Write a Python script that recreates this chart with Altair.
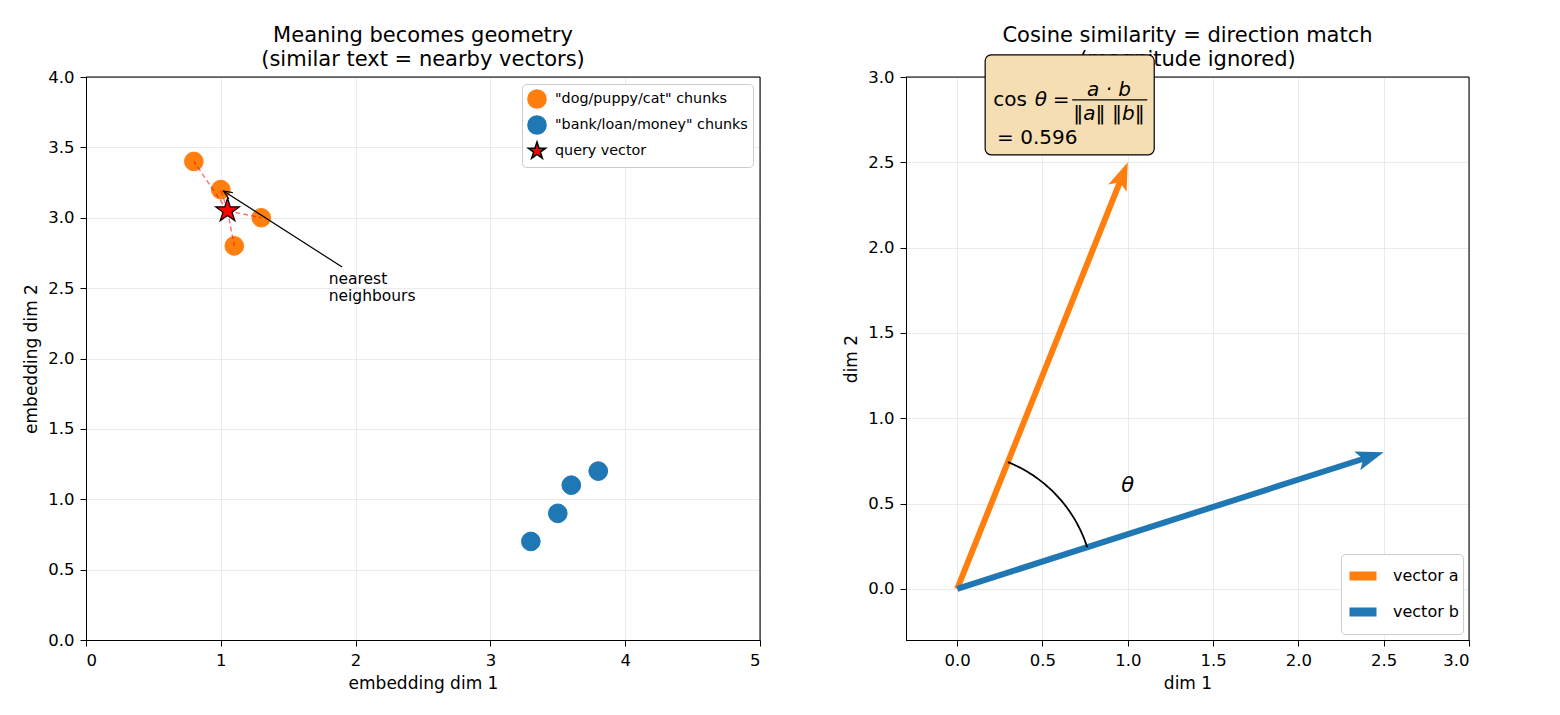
import math
import numpy as np
import pandas as pd
import altair as alt

FONT = "DejaVu Sans"
ORANGE = "#ff7f0e"
BLUE = "#1f77b4"
STAR = ("M0,-1L0.2245,-0.309L0.951,-0.309L0.363,0.118L0.588,0.809L0,0.382"
        "L-0.588,0.809L-0.363,0.118L-0.951,-0.309L-0.2245,-0.309Z")

# ---- left panel: toy embedding space ----
left_title = ["Meaning becomes geometry", "(similar text = nearby vectors)"]
dog_x = [0.8, 1.0, 1.3, 1.1]
dog_y = [3.4, 3.2, 3.0, 2.8]
bank_x = [3.3, 3.5, 3.6, 3.8]
bank_y = [0.7, 0.9, 1.1, 1.2]
query_xy = [1.05, 3.05]
series_names = ['"dog/puppy/cat" chunks', '"bank/loan/money" chunks', "query vector"]

note_lines = ["nearest", "neighbours"]
note_x = 1.8
note_y = [2.53, 2.41]
note_tail = [1.9, 2.65]
note_head = [1.02, 3.19]

left_xdom = [0, 5]
left_ydom = [0, 4]
left_xticks = [0, 1, 2, 3, 4, 5]
left_yticks = [0.0, 0.5, 1.0, 1.5, 2.0, 2.5, 3.0, 3.5, 4.0]

# ---- right panel: two vectors and the angle between them ----
right_title = ["Cosine similarity = direction match", "(magnitude ignored)"]
vec_names = ["vector a", "vector b"]
vec_a = [1.0, 2.5]
vec_b = [2.5, 0.8]
arc_radius = 0.8
theta_xy = [1.0, 0.6]
cos_value = "= 0.596"

right_dom = [-0.3, 3.0]
right_ticks = [0.0, 0.5, 1.0, 1.5, 2.0, 2.5, 3.0]

# formula box placement (data coordinates of the right panel)
box_x = [0.164, 1.155]
box_y = [2.544, 3.130]
cos_parts = [("cos", 0.211, "normal"), ("θ", 0.455, "italic"), ("=", 0.56, "normal")]
cos_y = 2.831
num_xy = [0.89, 2.89]
den_xy = [0.89, 2.749]
bar_x = [0.674, 1.114]
bar_y = 2.866
val_xy = [0.234, 2.608]

W1, H1 = 674, 563
W2, H2 = 563, 563
TITLE_RAISE = [35, 11]   # baselines of the two title lines, pixels above the plot
TITLE_SIZE = 21


def axis(values, fmt, title):
    return alt.Axis(values=values, format=fmt, title=title, grid=True,
                    gridColor="#e6e6e6", gridWidth=0.8, domain=True, domainColor="black",
                    domainWidth=1, tickColor="black", tickSize=6, tickWidth=1,
                    labelFont=FONT, labelFontSize=16.5, labelColor="black", labelPadding=6,
                    titleFont=FONT, titleFontSize=17, titleFontWeight="normal",
                    titleColor="black", titlePadding=7)


def title_layer(lines, xdom, ytop, px_per_unit, X, Y):
    df = pd.DataFrame({"x": [(xdom[0] + xdom[1]) / 2] * len(lines),
                       "y": [ytop + r / px_per_unit for r in TITLE_RAISE],
                       "t": lines})
    return alt.Chart(df).mark_text(font=FONT, fontSize=TITLE_SIZE, align="center",
                                   baseline="alphabetic", color="black").encode(x=X(), y=Y(), text="t:N")


def frame_layer(xdom, ydom, X, Y):
    # top and right spines, drawn above the grid
    df = pd.DataFrame({"x": [xdom[0], xdom[1]], "xe": [xdom[1], xdom[1]],
                       "y": [ydom[1], ydom[0]], "ye": [ydom[1], ydom[1]]})
    return alt.Chart(df).mark_rule(color="black", strokeWidth=1).encode(
        x=X(), x2="xe:Q", y=Y(), y2="ye:Q")


lx_axis = axis(left_xticks, "d", "embedding dim 1")
ly_axis = axis(left_yticks, ".1f", "embedding dim 2")
lx_scale = alt.Scale(domain=left_xdom, nice=False, zero=False)
ly_scale = alt.Scale(domain=left_ydom, nice=False, zero=False)


def LX(f="x"):
    return alt.X(f"{f}:Q", scale=lx_scale, axis=lx_axis)


def LY(f="y"):
    return alt.Y(f"{f}:Q", scale=ly_scale, axis=ly_axis)


pts = pd.DataFrame({
    "x": dog_x + bank_x + [query_xy[0]],
    "y": dog_y + bank_y + [query_xy[1]],
    "series": [series_names[0]] * len(dog_x) + [series_names[1]] * len(bank_x) + [series_names[2]],
})

leg = alt.Legend(title=None, orient="top-right", offset=7, fillColor="white",
                 strokeColor="#cccccc", cornerRadius=4, padding=5, labelFont=FONT,
                 labelFontSize=14.3, labelColor="black", labelLimit=400, rowPadding=0,
                 symbolSize=330, labelOffset=8)

enc_series = dict(
    color=alt.Color("series:N", scale=alt.Scale(domain=series_names, range=[ORANGE, BLUE, "red"]), legend=leg),
    shape=alt.Shape("series:N", scale=alt.Scale(domain=series_names, range=["circle", "circle", STAR]), legend=leg),
    stroke=alt.Stroke("series:N", scale=alt.Scale(domain=series_names, range=[ORANGE, BLUE, "black"]), legend=leg),
)

circles = alt.Chart(pts).transform_filter(alt.datum.series != series_names[2]).mark_point(
    filled=True, opacity=1, strokeWidth=1, size=350).encode(x=LX(), y=LY(), **enc_series)
star = alt.Chart(pts).transform_filter(alt.datum.series == series_names[2]).mark_point(
    filled=True, opacity=1, strokeWidth=1.2, size=620).encode(x=LX(), y=LY(), **enc_series)

links = pd.DataFrame({"x": [query_xy[0]] * len(dog_x), "y": [query_xy[1]] * len(dog_x),
                      "xe": dog_x, "ye": dog_y})
link_lines = alt.Chart(links).mark_rule(color="red", opacity=0.55, strokeDash=[5, 3], strokeWidth=1.4).encode(
    x=LX(), y=LY(), x2="xe:Q", y2="ye:Q")

# annotation arrow pointing at the nearest neighbours
note_df = pd.DataFrame({"x": [note_tail[0]], "y": [note_tail[1]], "xe": [note_head[0]], "ye": [note_head[1]]})
note_line = alt.Chart(note_df).mark_rule(color="black", strokeWidth=1.2).encode(
    x=LX(), y=LY(), x2="xe:Q", y2="ye:Q")
px_x = W1 / (left_xdom[1] - left_xdom[0])
px_y = H1 / (left_ydom[1] - left_ydom[0])
phi = math.degrees(math.atan2((note_head[1] - note_tail[1]) * px_y, (note_head[0] - note_tail[0]) * px_x))
note_tip = alt.Chart(pd.DataFrame({"x": [note_head[0]], "y": [note_head[1]]})).mark_point(
    shape="M-0.55,1.3L0,0L0.55,1.3", filled=False, color="black", strokeWidth=1.2, size=180,
    opacity=1, angle=(90 - phi) % 360).encode(x=LX(), y=LY())
note_label = alt.Chart(pd.DataFrame({"x": [note_x] * 2, "y": note_y, "t": note_lines})).mark_text(
    align="left", baseline="alphabetic", font=FONT, fontSize=15.5, color="black").encode(
    x=LX(), y=LY(), text="t:N")

left_head = title_layer(left_title, left_xdom, left_ydom[1], px_y, LX, LY)
left_frame = frame_layer(left_xdom, left_ydom, LX, LY)

left = alt.layer(left_head, left_frame, circles, link_lines, star, note_line, note_tip, note_label).properties(
    width=W1, height=H1, view=alt.ViewBackground(stroke="black", strokeWidth=1))

# ---- right panel ----
rx_axis = axis(right_ticks, ".1f", "dim 1")
ry_axis = axis(right_ticks, ".1f", "dim 2")
r_scale = alt.Scale(domain=right_dom, nice=False, zero=False)


def RX(f="x"):
    return alt.X(f"{f}:Q", scale=r_scale, axis=rx_axis)


def RY(f="y"):
    return alt.Y(f"{f}:Q", scale=r_scale, axis=ry_axis)


px_r = W2 / (right_dom[1] - right_dom[0])
head_size = 640
head_unit = math.sqrt(head_size) / 2
shaft_back = 1.6 * head_unit / px_r  # shaft stops inside the arrow head
HEAD = "M0,0L0.78,2.2L0,1.7L-0.78,2.2Z"

vec_rows = []
head_layers = []
for name, v, col in zip(vec_names, [vec_a, vec_b], [ORANGE, BLUE]):
    L = math.hypot(v[0], v[1])
    ux, uy = v[0] / L, v[1] / L
    vec_rows += [{"name": name, "o": 0, "x": 0.0, "y": 0.0},
                 {"name": name, "o": 1, "x": v[0] - ux * shaft_back, "y": v[1] - uy * shaft_back}]
    ang = math.degrees(math.atan2(v[1], v[0]))
    head_layers.append(
        alt.Chart(pd.DataFrame({"x": [v[0]], "y": [v[1]]})).mark_point(
            shape=HEAD, filled=True, color=col, size=head_size, opacity=1, strokeWidth=0,
            angle=(90 - ang) % 360).encode(x=RX(), y=RY()))
vec_df = pd.DataFrame(vec_rows)

rleg = alt.Legend(title=None, orient="bottom-right", offset=6, fillColor="white",
                  strokeColor="#cccccc", cornerRadius=4, padding=4, labelFont=FONT,
                  labelFontSize=16, labelColor="black", symbolType="stroke", symbolSize=729,
                  symbolStrokeWidth=9, rowPadding=0, labelOffset=12)

shafts = alt.Chart(vec_df).mark_line(strokeWidth=6, strokeCap="butt").encode(
    x=RX(), y=RY(), order="o:Q",
    color=alt.Color("name:N", scale=alt.Scale(domain=vec_names, range=[ORANGE, BLUE]), legend=rleg))

a0 = math.atan2(vec_b[1], vec_b[0])
a1 = math.atan2(vec_a[1], vec_a[0])
arc_t = np.linspace(a0, a1, 60)
arc_df = pd.DataFrame({"x": arc_radius * np.cos(arc_t), "y": arc_radius * np.sin(arc_t), "o": range(len(arc_t))})
arc = alt.Chart(arc_df).mark_line(color="black", strokeWidth=1.8).encode(x=RX(), y=RY(), order="o:Q")

theta_lbl = alt.Chart(pd.DataFrame({"x": [theta_xy[0]], "y": [theta_xy[1]], "t": ["θ"]})).mark_text(
    font=FONT, fontSize=21, fontStyle="italic", align="center", baseline="middle", color="black").encode(
    x=RX(), y=RY(), text="t:N")

box = alt.Chart(pd.DataFrame({"x": [box_x[0]], "xe": [box_x[1]], "y": [box_y[0]], "ye": [box_y[1]]})).mark_rect(
    fill="#f5deb3", stroke="black", strokeWidth=1.2, cornerRadius=6).encode(
    x=RX(), x2="xe:Q", y=RY(), y2="ye:Q")

cos_df = pd.DataFrame({"x": [p[1] for p in cos_parts] + [val_xy[0]],
                       "y": [cos_y] * len(cos_parts) + [val_xy[1]],
                       "t": [p[0] for p in cos_parts] + [cos_value],
                       "s": [p[2] for p in cos_parts] + ["normal"]})
cos_upright = alt.Chart(cos_df).transform_filter(alt.datum.s == "normal").mark_text(
    font=FONT, fontSize=20, align="left", baseline="alphabetic", color="black").encode(
    x=RX(), y=RY(), text="t:N")
cos_italic = alt.Chart(cos_df).transform_filter(alt.datum.s == "italic").mark_text(
    font=FONT, fontSize=20, fontStyle="italic", align="left", baseline="alphabetic", color="black").encode(
    x=RX(), y=RY(), text="t:N")
frac_df = pd.DataFrame({"x": [num_xy[0], den_xy[0]], "y": [num_xy[1], den_xy[1]], "t": ["a · b", "‖a‖ ‖b‖"]})
frac_text = alt.Chart(frac_df).mark_text(font=FONT, fontSize=20, fontStyle="italic", align="center",
                                         baseline="alphabetic", color="black").encode(x=RX(), y=RY(), text="t:N")
frac_bar = alt.Chart(pd.DataFrame({"x": [bar_x[0]], "xe": [bar_x[1]], "y": [bar_y]})).mark_rule(
    color="black", strokeWidth=1.2).encode(x=RX(), x2="xe:Q", y=RY())

right_head = title_layer(right_title, right_dom, right_dom[1], px_r, RX, RY)
right_frame = frame_layer(right_dom, right_dom, RX, RY)

right = alt.layer(right_head, right_frame, shafts, *head_layers, arc, theta_lbl, box, cos_upright,
                  cos_italic, frac_text, frac_bar).properties(
    width=W2, height=H2, view=alt.ViewBackground(stroke="black", strokeWidth=1))

chart = alt.hconcat(left, right, spacing=81).resolve_scale(
    color="independent", shape="independent", stroke="independent"
).resolve_legend(
    color="independent", shape="independent", stroke="independent"
).properties(
    padding={"left": 22, "top": 24, "right": 5, "bottom": 5},
    background="white",
).configure_view(stroke="black", strokeWidth=1)

chart.save("out.html", embed_options={"renderer": "svg", "actions": False})
